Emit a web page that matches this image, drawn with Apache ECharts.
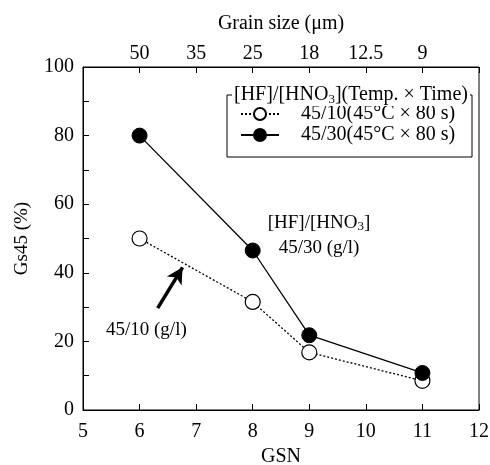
<!DOCTYPE html>
<html>
<head>
<meta charset="utf-8">
<script src="https://cdn.jsdelivr.net/npm/echarts@6/dist/echarts.min.js"></script>
<style>
  html, body { margin: 0; padding: 0; background: #fff; }
  #chart { width: 490px; height: 465px; }
</style>
</head>
<body>
<div id="chart"></div>
<script>
  // GSN 값과 Gs45 (%) 측정값
  var gsn = [6, 8, 9, 11];
  var gs45Ratio10 = [50, 31.5, 16.8, 8.5];
  var gs45Ratio30 = [80, 46.5, 21.8, 10.8];
  var seriesNames = ['45/10(45°C × 80 s)', '45/30(45°C × 80 s)'];
  // 위쪽 축: GSN 5..12 에 대응하는 결정립 크기 (μm)
  var grainSizeLabels = ['', '50', '35', '25', '18', '12.5', '9', ''];
  // 화살표 (45/10 선을 가리킴)
  var arrowFrom = [6.32, 29.7];
  var arrowTo = [6.76, 41.6];

  var serif = '"Liberation Serif", "DejaVu Serif", serif';

  const drawGrainChart = chartId => {
    let myChart = echarts.init(document.getElementById(chartId), null, { renderer: 'canvas' });

    let pair = (xs, ys) => xs.map((x, i) => [x, ys[i]]);

    let option = {
      animation: false,
      backgroundColor: '#fff',
      textStyle: { fontFamily: serif, color: '#000' },
      grid: {
        left: 83,
        right: 11,
        top: 67,
        bottom: 55,
        outerBoundsMode: 'none',
        show: true,
        borderColor: '#000',
        borderWidth: 1
      },
      legend: {
        orient: 'vertical',
        left: 240,
        top: 104,
        padding: 0,
        itemWidth: 38,
        itemHeight: 15,
        itemGap: 1,
        data: seriesNames,
        textStyle: {
          fontFamily: serif,
          fontSize: 20,
          color: '#000',
          lineHeight: 19,
          padding: [0, 0, 0, 17]
        }
      },
      xAxis: [
        {
          type: 'value',
          position: 'bottom',
          min: 5,
          max: 12,
          interval: 1,
          name: 'GSN',
          nameLocation: 'middle',
          nameGap: 33,
          nameTextStyle: { fontFamily: serif, fontSize: 20, color: '#000' },
          axisLine: { show: true, onZero: false, lineStyle: { color: '#000', width: 1 } },
          axisTick: { show: true, inside: true, length: 6, lineStyle: { color: '#000' } },
          axisLabel: { fontFamily: serif, fontSize: 20, color: '#000', margin: 12 },
          splitLine: { show: false }
        },
        {
          type: 'value',
          position: 'top',
          min: 5,
          max: 12,
          interval: 1,
          name: 'Grain size (μm)',
          nameLocation: 'middle',
          nameGap: 33,
          nameTextStyle: { fontFamily: serif, fontSize: 20, color: '#000' },
          axisLine: { show: true, onZero: false, lineStyle: { color: '#000', width: 1 } },
          axisTick: { show: true, inside: true, length: 6, lineStyle: { color: '#000' } },
          axisLabel: {
            fontFamily: serif,
            fontSize: 20,
            color: '#000',
            margin: 3,
            formatter: v => grainSizeLabels[Math.round(v - 5)]
          },
          splitLine: { show: false }
        }
      ],
      yAxis: [
        {
          type: 'value',
          min: 0,
          max: 100,
          interval: 10,
          name: 'Gs45 (%)',
          nameLocation: 'middle',
          nameGap: 51,
          nameTextStyle: { fontFamily: serif, fontSize: 19, color: '#000' },
          axisLine: { show: true, onZero: false, lineStyle: { color: '#000', width: 1 } },
          axisTick: { show: true, inside: true, length: 6, lineStyle: { color: '#000' } },
          axisLabel: {
            fontFamily: serif,
            fontSize: 20,
            color: '#000',
            margin: 9,
            formatter: v => (v % 20 === 0 ? String(v) : '')
          },
          splitLine: { show: false }
        }
      ],
      series: [
        {
          name: seriesNames[0],
          type: 'line',
          data: pair(gsn, gs45Ratio10),
          symbol: 'circle',
          symbolSize: 15,
          z: 3,
          itemStyle: { color: '#fff', borderColor: '#000', borderWidth: 1.2 },
          lineStyle: { color: '#000', width: 1.3, type: [2, 2] },
          markLine: {
            silent: true,
            symbol: ['none', 'arrow'],
            symbolSize: [13, 16],
            label: { show: false },
            lineStyle: { color: '#000', width: 3.5, type: 'solid' },
            data: [[{ coord: arrowFrom }, { coord: arrowTo }]]
          }
        },
        {
          name: seriesNames[1],
          type: 'line',
          data: pair(gsn, gs45Ratio30),
          symbol: 'circle',
          symbolSize: 15,
          z: 4,
          itemStyle: { color: '#000', borderColor: '#000', borderWidth: 1 },
          lineStyle: { color: '#000', width: 1.3, type: 'solid' }
        }
      ],
      graphic: [
        // 범례 테두리
        {
          type: 'rect',
          shape: { x: 227, y: 95, width: 245, height: 62 },
          style: { fill: 'none', stroke: '#000', lineWidth: 1 },
          z: 10
        },
        {
          type: 'text',
          x: 232,
          y: 95,
          z: 11,
          style: {
            text: '[HF]/[HNO{sub|3}](Temp. × Time)',
            fontFamily: serif,
            fontSize: 20,
            fill: '#000',
            backgroundColor: '#fff',
            padding: [0, 2, 0, 2],
            verticalAlign: 'middle',
            rich: {
              sub: { fontFamily: serif, fontSize: 13, verticalAlign: 'bottom', padding: [9, 0, 0, 0] }
            }
          }
        },
        {
          type: 'text',
          x: 319,
          y: 223,
          style: {
            text: '[HF]/[HNO{sub|3}]',
            fontFamily: serif,
            fontSize: 19,
            fill: '#000',
            align: 'center',
            verticalAlign: 'middle',
            rich: {
              sub: { fontFamily: serif, fontSize: 13, verticalAlign: 'bottom', padding: [8, 0, 0, 0] }
            }
          }
        },
        {
          type: 'text',
          x: 319,
          y: 248,
          style: {
            text: '45/30 (g/l)',
            fontFamily: serif,
            fontSize: 19,
            fill: '#000',
            align: 'center',
            verticalAlign: 'middle'
          }
        },
        {
          type: 'text',
          x: 106,
          y: 330,
          style: {
            text: '45/10 (g/l)',
            fontFamily: serif,
            fontSize: 19,
            fill: '#000',
            align: 'left',
            verticalAlign: 'middle'
          }
        }
      ]
    };

    option && myChart.setOption(option);
  };

  drawGrainChart('chart');
</script>
</body>
</html>
